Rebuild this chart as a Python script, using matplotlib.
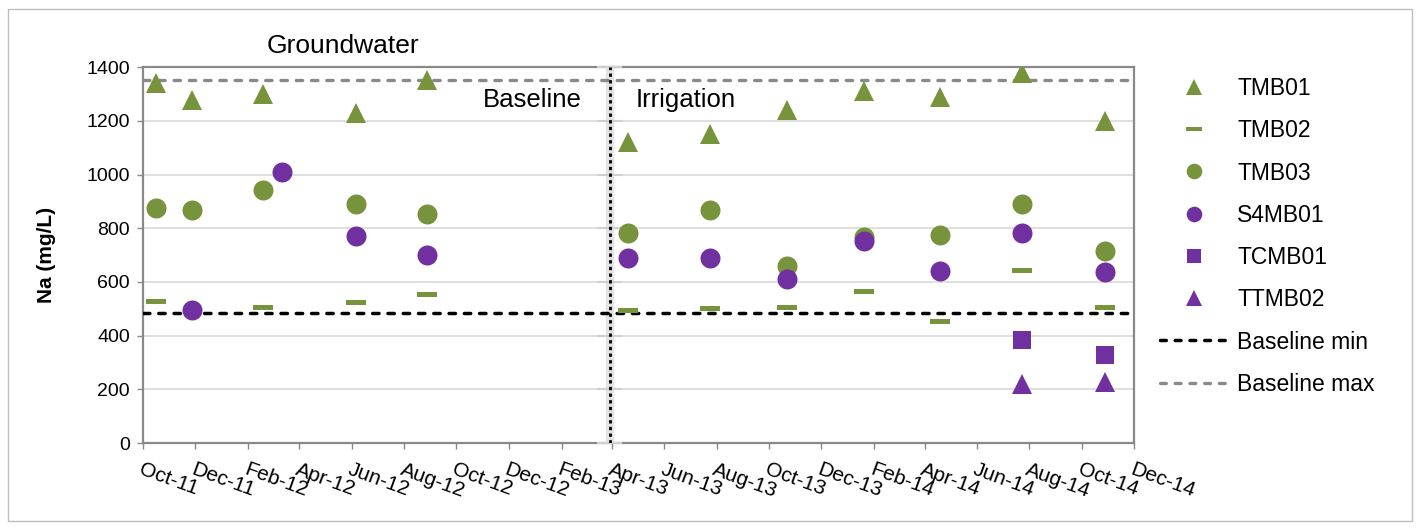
import matplotlib
matplotlib.use("Agg")
import matplotlib.pyplot as plt
import matplotlib.dates as mdates
from matplotlib.lines import Line2D
from matplotlib.patches import Rectangle
import pandas as pd

plt.rcParams['font.family'] = ['Liberation Sans', 'DejaVu Sans']
plt.rcParams['lines.scale_dashes'] = False

# ---------------- data ----------------
tmb01_dates = ["2011-10-16", "2011-11-27", "2012-02-18", "2012-06-06", "2012-08-28",
               "2013-04-19", "2013-07-24", "2013-10-22", "2014-01-20", "2014-04-18",
               "2014-07-23", "2014-10-28"]
tmb01_vals = [1340, 1280, 1300, 1230, 1351, 1120, 1150, 1240, 1310, 1289, 1380, 1200]

tmb02_dates = ["2011-10-16", "2012-02-18", "2012-06-06", "2012-08-28", "2013-04-19",
               "2013-07-24", "2013-10-22", "2014-01-20", "2014-04-18", "2014-07-23",
               "2014-10-28"]
tmb02_vals = [528, 505, 524, 555, 495, 503, 506, 567, 453, 644, 506]

tmb03_dates = tmb01_dates
tmb03_vals = [875, 870, 942, 890, 853, 782, 870, 659, 768, 776, 889, 715]

s4mb01_dates = ["2011-11-27", "2012-03-12", "2012-06-06", "2012-08-28", "2013-04-19",
                "2013-07-24", "2013-10-22", "2014-01-20", "2014-04-18", "2014-07-23",
                "2014-10-28"]
s4mb01_vals = [494, 1010, 770, 701, 690, 690, 610, 752, 641, 784, 638]

tcmb01_dates = ["2014-07-23", "2014-10-28"]
tcmb01_vals = [382, 327]

ttmb02_dates = ["2014-07-23", "2014-10-28"]
ttmb02_vals = [221, 226]

baseline_min = 485
baseline_max = 1351
divider_date = "2013-03-29"

x_start, x_end = "2011-10-01", "2014-12-01"
y_ticks = [0, 200, 400, 600, 800, 1000, 1200, 1400]

GREEN = "#77933C"
PURPLE = "#7030A0"
AXGREY = "#898989"
GRID = "#D9D9D9"

# ---------------- figure ----------------
W, H, DPI = 1423, 529, 100
fig = plt.figure(figsize=(W / DPI, H / DPI), dpi=DPI)
L, R, T, B = 142.7, 1134, 67.3, 443
ax = fig.add_axes([L / W, 1 - B / H, (R - L) / W, (B - T) / H])

fig.patches.append(Rectangle((8 / W, 8 / H), (1412 - 8) / W, (521 - 9) / H,
                             transform=fig.transFigure, fill=False,
                             edgecolor="#BFBFBF", linewidth=1))

D = pd.to_datetime
dash_marker = [(-1, -0.25), (1, -0.25), (1, 0.25), (-1, 0.25), (-1, -0.25)]

MS = 14.4
series = [
    ("TMB01", tmb01_dates, tmb01_vals, "^", GREEN, MS),
    ("TMB02", tmb02_dates, tmb02_vals, dash_marker, GREEN, MS),
    ("TMB03", tmb03_dates, tmb03_vals, "o", GREEN, MS),
    ("S4MB01", s4mb01_dates, s4mb01_vals, "o", PURPLE, MS),
    ("TCMB01", tcmb01_dates, tcmb01_vals, "s", PURPLE, 12.7),
    ("TTMB02", ttmb02_dates, ttmb02_vals, "^", PURPLE, MS),
]
handles = []
for name, d, v, m, c, ms in series:
    ax.plot(D(d), v, linestyle="none", marker=m, markersize=ms, color=c,
            markeredgewidth=0, zorder=5)
    handles.append(Line2D([], [], linestyle="none", marker=m, markersize=ms * 0.78,
                          color=c, markeredgewidth=0, label=name))

# baseline lines
dash = (0, (4.6, 6.4))
ax.axhline(baseline_min, color="black", lw=2.5, ls=dash, dash_capstyle="round", zorder=4)
ax.axhline(baseline_max, color="#898989", lw=2.4, ls=dash, dash_capstyle="round", zorder=4)
handles.append(Line2D([], [], color="black", lw=2.5, ls=(0, (4.2, 6.4)),
                      dash_capstyle="round", label="Baseline min"))
handles.append(Line2D([], [], color="#898989", lw=2.4, ls=(0, (4.2, 6.4)),
                      dash_capstyle="round", label="Baseline max"))

# divider (secondary-axis look)
dv = D(divider_date)
ax.axvline(dv, color="#E3E3E3", lw=6, zorder=3)
ax.hlines(y_ticks, dv - pd.Timedelta(days=15), dv + pd.Timedelta(days=15),
          color="#D0D0D0", lw=1.5, zorder=3, clip_on=False)
ax.axvline(dv, color="black", lw=2.0, ls=(0, (2.4, 2.4)), zorder=4)

# axes
ax.set_xlim(D(x_start), D(x_end))
ax.set_ylim(0, 1400)
ax.set_yticks(y_ticks)
ax.grid(axis="y", color=GRID, lw=1.2, zorder=0)
ax.set_axisbelow(True)

xt = pd.date_range(x_start, x_end, freq="2MS")
ax.set_xticks(xt)
ax.set_xticklabels([t.strftime("%b-%y") for t in xt], rotation=-20, ha="left",
                   va="top", rotation_mode="anchor", fontsize=15)
ax.tick_params(axis="x", direction="out", length=4.3, width=1, color=AXGREY, pad=8)
ax.tick_params(axis="y", direction="out", length=4.3, width=1, color=AXGREY, pad=5,
               labelsize=14)
for s in ax.spines.values():
    s.set_color(AXGREY)
    s.set_linewidth(1.6)

ax.set_ylabel("Na (mg/L)", fontsize=15, fontweight="bold", labelpad=22)

ax.text(0.2015, 1.039, "Groundwater", transform=ax.transAxes, ha="center",
        va="baseline", fontsize=19)
ax.text(0.443, 0.8935, "Baseline", transform=ax.transAxes, ha="right",
        va="baseline", fontsize=18.5)
ax.text(0.4975, 0.8935, "Irrigation", transform=ax.transAxes, ha="left",
        va="baseline", fontsize=18.5)

F = 16.5
fig.legend(handles=handles, loc="upper left", bbox_to_anchor=(1160 / W, 1 - 77 / H),
           frameon=False, fontsize=F, handlelength=68 / (F * DPI / 72),
           handletextpad=9 / (F * DPI / 72), labelspacing=0.84, borderpad=0,
           borderaxespad=0)

fig.savefig("out.png", dpi=DPI)
